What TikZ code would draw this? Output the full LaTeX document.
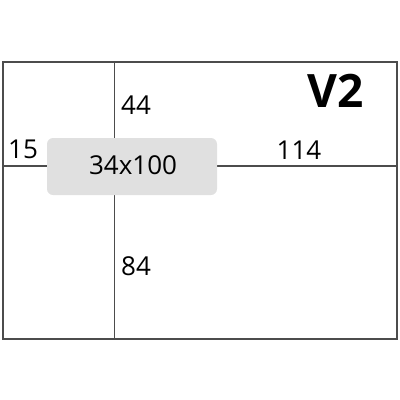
\documentclass[tikz,border=0pt]{standalone}
\usepackage{fontspec}
\setmainfont{Open Sans}
\begin{document}
\begin{tikzpicture}[x=1pt,y=-1pt,
  frame/.style={draw=black!70,line width=1.3pt},
  label/.style={inner sep=0pt,font=\fontsize{26}{28}\selectfont},
  chip/.style={fill=black!12,rounded corners=6pt}]
\useasboundingbox (0,0) rectangle (400,400);
\coordinate (tl) at (3,62);
\coordinate (br) at (397,339);
\coordinate (vt) at (114.5,62);
\coordinate (vb) at (114.5,339);
\coordinate (hl) at (3,166);
\coordinate (hr) at (397,166);
\draw[frame] (tl) rectangle (br);
\draw[frame] (vt) -- (vb);
\draw[frame] (hl) -- (hr);
\path[chip] (47,138) rectangle (217,195);
\node[label] (n34) at (133,165) {34x100};
\node[label] (n44) at (136,105) {44};
\node[label] (n15) at (23,149) {15};
\node[label] (n114) at (299,150) {114};
\node[label] (n84) at (136,266) {84};
\node[inner sep=0pt,font=\fontsize{46}{50}\selectfont\bfseries] (v2) at (336,91) {V2};
\end{tikzpicture}
\end{document}
